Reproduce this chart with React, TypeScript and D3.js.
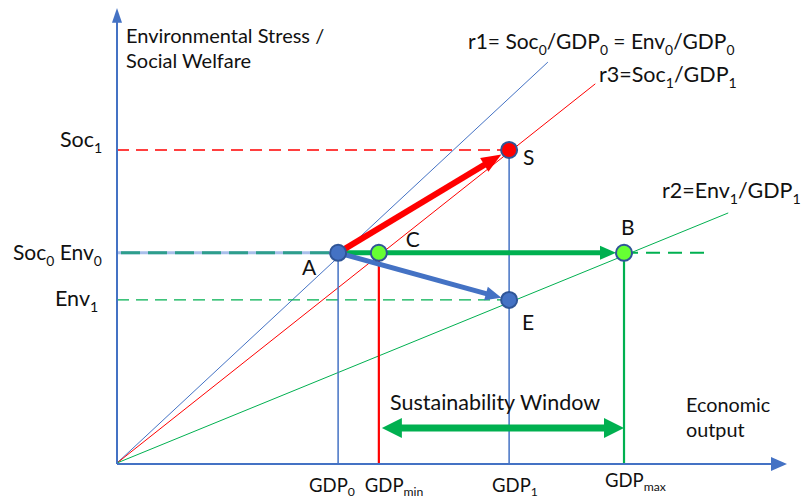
import React from "react";
import * as d3 from "d3";

// ---- data (abstract units, 0..100 on each axis) ----
const gdpLabels = ["GDP|0", "GDP|min", "GDP|1", "GDP|max"];
const gdpValues = [33.1, 39.2, 58.7, 75.9];
const levelNames = ["Soc0", "Soc1", "Env1"];
const levelValues = [46.4, 69.1, 36.0];
const pointNames = ["A", "C", "B", "S", "E"];
const pointX = [33.1, 39.2, 75.9, 58.7, 58.7];
const pointY = [46.4, 46.4, 46.4, 69.1, 36.0];
const rayNames = ["r1", "r3", "r2"];
const rayEndX = [64.5, 71.6, 91.5];
const rayEndY = [88.5, 83.7, 55.2];
const dashEndX = 88.8;

const W = 805;
const H = 500;
const BLUE = "#4472C4";
const DARKBLUE = "#2F5597";
const RED = "#FF0000";
const GREEN = "#00B050";
const LIME = "#66FF33";
const FONT = "Lato, 'Open Sans', sans-serif";

type Seg = [string, boolean?];

function Txt({ x, y, segs, size = 21, subShift = 0.28 }: { x: number; y: number; segs: Seg[]; size?: number; subShift?: number }) {
  const out: React.ReactNode[] = [];
  let prevSub = false;
  segs.forEach((s, i) => {
    const sub = !!s[1];
    let dy = 0;
    if (sub && !prevSub) dy = size * subShift;
    if (!sub && prevSub) dy = -size * subShift;
    out.push(
      <tspan key={i} dy={dy} fontSize={sub ? size * 0.66 : size}>
        {s[0]}
      </tspan>
    );
    prevSub = sub;
  });
  return (
    <text x={x} y={y} fontFamily={FONT} fontSize={size} fill="#111">
      {out}
    </text>
  );
}

function Arrow({
  x1, y1, x2, y2, w, hl, hw, color, both = false,
}: {
  x1: number; y1: number; x2: number; y2: number; w: number; hl: number; hw: number; color: string; both?: boolean;
}) {
  const dx = x2 - x1, dy = y2 - y1;
  const len = Math.hypot(dx, dy);
  const ux = dx / len, uy = dy / len;
  const nx = -uy, ny = ux;
  const head = (tx: number, ty: number, dirx: number, diry: number) => {
    const bx = tx - dirx * hl, by = ty - diry * hl;
    return `${tx},${ty} ${bx + nx * hw / 2},${by + ny * hw / 2} ${bx - nx * hw / 2},${by - ny * hw / 2}`;
  };
  const sx = both ? x1 + ux * (hl - 1) : x1;
  const sy = both ? y1 + uy * (hl - 1) : y1;
  const ex = x2 - ux * (hl - 1), ey = y2 - uy * (hl - 1);
  return (
    <g>
      <line x1={sx} y1={sy} x2={ex} y2={ey} stroke={color} strokeWidth={w} />
      <polygon points={head(x2, y2, ux, uy)} fill={color} />
      {both && <polygon points={head(x1, y1, -ux, -uy)} fill={color} />}
    </g>
  );
}

export default function App() {
  const x = d3.scaleLinear().domain([0, 100]).range([117, 785]);
  const y = d3.scaleLinear().domain([0, 100]).range([463, 10]);

  const lv = (name: string) => levelValues[levelNames.indexOf(name)];
  const P = (n: string) => {
    const i = pointNames.indexOf(n);
    return { px: x(pointX[i]), py: y(pointY[i]) };
  };
  const A = P("A"), C = P("C"), B = P("B"), S = P("S"), E = P("E");
  const x0 = x(0), y0 = y(0);
  const axisY = y0 + 1;

  const rayColor: Record<string, string> = { r1: BLUE, r3: RED, r2: GREEN };

  const gdpLabelPos: Record<string, { dx: number; base: number }> = {
    "0": { dx: -29, base: 492 },
    min: { dx: -14, base: 492 },
    "1": { dx: -17, base: 492 },
    max: { dx: -19, base: 487 },
  };

  const trim = (p: { px: number; py: number }, q: { px: number; py: number }, r: number) => {
    const dx = q.px - p.px, dy = q.py - p.py;
    const l = Math.hypot(dx, dy);
    return { px: q.px - (dx / l) * r, py: q.py - (dy / l) * r };
  };
  const tipS = trim(A, S, 9);
  const tipE = trim(A, E, 8);
  const tipB = trim(A, B, 8);

  return (
    <div style={{ position: "absolute", left: 0, top: 0 }}>
      <svg width={W} height={H} style={{ display: "block", background: "#fff" }}>
        {/* rays */}
        {rayNames.map((r, i) => (
          <line key={r} x1={x0} y1={y0} x2={x(rayEndX[i])} y2={y(rayEndY[i])} stroke={rayColor[r]} strokeWidth={1} />
        ))}

        {/* horizontal reference lines */}
        <line x1={x0} x2={S.px} y1={y(lv("Soc1"))} y2={y(lv("Soc1"))} stroke={RED} strokeWidth={1.4} strokeDasharray="12,7" />
        <line x1={x0} x2={A.px} y1={y(lv("Soc0"))} y2={y(lv("Soc0"))} stroke="#A9BFEA" strokeWidth={3} />
        <line x1={x0 + 4} x2={A.px} y1={y(lv("Soc0"))} y2={y(lv("Soc0"))} stroke="#2E9E8C" strokeWidth={3} strokeDasharray="19,8" />
        <line x1={x0} x2={E.px} y1={y(lv("Env1"))} y2={y(lv("Env1"))} stroke={GREEN} strokeWidth={1.4} strokeDasharray="12,7" />
        <line x1={B.px} x2={x(dashEndX)} y1={B.py} y2={B.py} stroke={GREEN} strokeWidth={2} strokeDasharray="14,8" />

        {/* vertical drop lines */}
        <line x1={A.px} x2={A.px} y1={A.py} y2={axisY} stroke={BLUE} strokeWidth={1.5} />
        <line x1={C.px} x2={C.px} y1={C.py} y2={axisY} stroke={RED} strokeWidth={2.2} />
        <line x1={S.px} x2={S.px} y1={S.py} y2={axisY} stroke={BLUE} strokeWidth={1.5} />
        <line x1={B.px} x2={B.px} y1={B.py} y2={axisY} stroke={GREEN} strokeWidth={2.2} />

        {/* axes */}
        <line x1={x0} x2={x0} y1={axisY} y2={y(98)} stroke={BLUE} strokeWidth={2} />
        <polygon points={`${x0},${y(100) - 2} ${x0 - 5},${y(97.2)} ${x0 + 5},${y(97.2)}`} fill={BLUE} />
        <line x1={x0} x2={x(98)} y1={axisY} y2={axisY} stroke={BLUE} strokeWidth={2} />
        <polygon points={`${x(100) + 2},${axisY} ${x(97.9)},${axisY - 7} ${x(97.9)},${axisY + 7}`} fill={BLUE} />

        {/* arrows */}
        <Arrow x1={A.px} y1={A.py} x2={tipB.px} y2={tipB.py} w={5} hl={16} hw={14} color={GREEN} />
        <Arrow x1={A.px} y1={A.py} x2={tipE.px} y2={tipE.py} w={5} hl={16} hw={14} color={BLUE} />
        <Arrow x1={A.px} y1={A.py} x2={tipS.px} y2={tipS.py} w={6} hl={20} hw={16} color={RED} />
        <Arrow x1={C.px + 3} y1={428} x2={B.px} y2={428} w={7} hl={20} hw={20} color={GREEN} both />

        {/* points */}
        {pointNames.map((n, i) => {
          const fill = n === "S" ? RED : n === "C" || n === "B" ? LIME : BLUE;
          return <circle key={n} cx={x(pointX[i])} cy={y(pointY[i])} r={8} fill={fill} stroke={DARKBLUE} strokeWidth={2} />;
        })}

        {/* point labels */}
        <Txt x={A.px - 36} y={A.py + 22} segs={[["A"]]} size={21} />
        <Txt x={C.px + 27} y={C.py - 6} segs={[["C"]]} size={21} />
        <Txt x={B.px - 3} y={B.py - 18} segs={[["B"]]} size={21} />
        <Txt x={S.px + 14} y={S.py + 15} segs={[["S"]]} size={21} />
        <Txt x={E.px + 13} y={E.py + 30} segs={[["E"]]} size={21} />

        {/* y axis title */}
        <Txt x={126} y={43} segs={[["Environmental Stress /"]]} size={20} />
        <Txt x={126} y={68} segs={[["Social Welfare"]]} size={20} />

        {/* level labels */}
        <Txt x={60} y={147} segs={[["Soc"], ["1", true]]} size={21.5} />
        <Txt x={13} y={260} segs={[["Soc"], ["0", true], [" Env"], ["0", true]]} size={21} />
        <Txt x={55} y={306} segs={[["Env"], ["1", true]]} size={21.5} />

        {/* ray labels */}
        <Txt x={468} y={49} segs={[["r1= Soc"], ["0", true], ["/GDP"], ["0", true], [" = Env"], ["0", true], ["/GDP"], ["0", true]]} size={21} />
        <Txt x={599} y={82} segs={[["r3=Soc"], ["1", true], ["/GDP"], ["1", true]]} size={21.5} />
        <Txt x={662} y={198} segs={[["r2=Env"], ["1", true], ["/GDP"], ["1", true]]} size={21.5} />

        {/* window + x axis title */}
        <Txt x={390} y={410} segs={[["Sustainability Window"]]} size={21.5} />
        <Txt x={686} y={412} segs={[["Economic"]]} size={19.8} />
        <Txt x={686} y={437} segs={[["output"]]} size={19.8} />

        {/* GDP tick labels */}
        {gdpLabels.map((l, i) => {
          const [main, sub] = l.split("|");
          const pos = gdpLabelPos[sub];
          return <Txt key={l} x={x(gdpValues[i]) + pos.dx} y={pos.base} segs={[[main], [sub, true]]} size={18.5} subShift={0.22} />;
        })}
      </svg>
    </div>
  );
}
